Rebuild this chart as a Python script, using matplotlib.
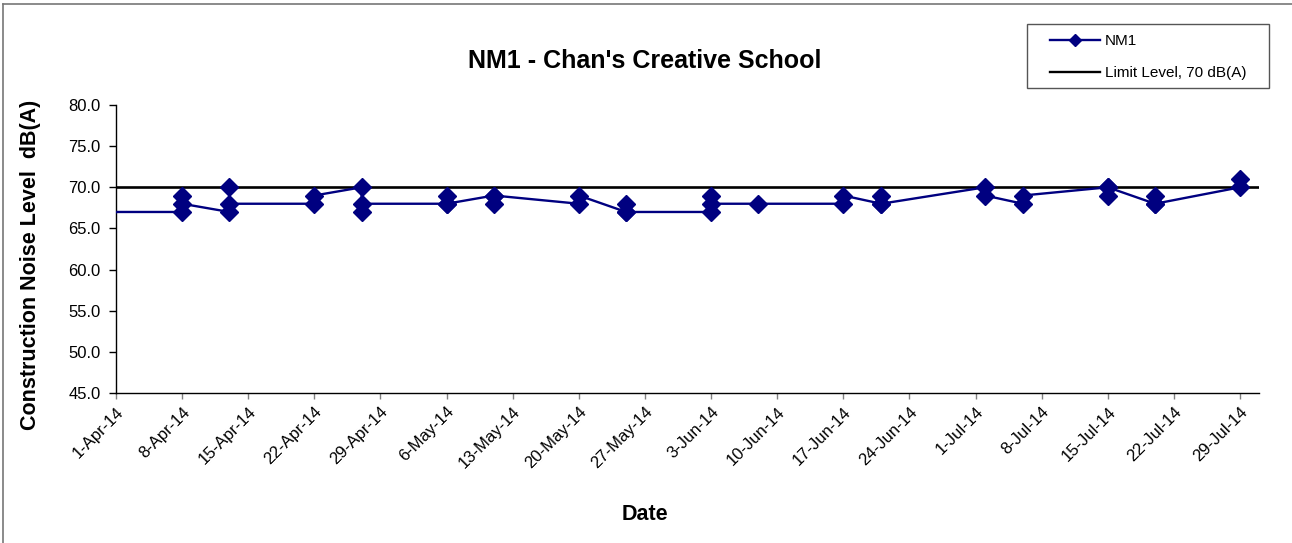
import matplotlib
matplotlib.use("Agg")
import matplotlib.pyplot as plt
from matplotlib.lines import Line2D
from matplotlib.patches import Rectangle
import pandas as pd

plt.rcParams['font.family'] = ['Liberation Sans', 'DejaVu Sans']

# measurement days and the readings taken on each day, in the order they were logged
sample_days = ['2014-03-31', '2014-04-08', '2014-04-13', '2014-04-22', '2014-04-27',
               '2014-05-06', '2014-05-11', '2014-05-20', '2014-05-25', '2014-06-03',
               '2014-06-08', '2014-06-17', '2014-06-21', '2014-07-02', '2014-07-06',
               '2014-07-15', '2014-07-20', '2014-07-29']
readings = [[67], [67, 69, 68], [67, 70, 68], [68, 69], [70, 67, 68],
            [68, 69, 68], [69, 68, 69], [68, 69], [67, 68, 67], [67, 69, 68],
            [68], [68, 69], [68, 69, 68], [70, 69], [68, 69],
            [70, 69, 70], [68, 69, 68], [70, 71]]
limit_level = 70

dates = []
values = []
for day, vals in zip(sample_days, readings):
    for v in vals:
        dates.append(pd.Timestamp(day))
        values.append(v)

x_start = pd.Timestamp('2014-04-01')
x_end = pd.Timestamp('2014-07-31')
tick_dates = pd.date_range('2014-04-01', '2014-07-29', freq='7D')

fig = plt.figure(figsize=(12.92, 5.43), dpi=100)
ax = fig.add_axes([116 / 1292, 150 / 543, (1259 - 116) / 1292, 288 / 543])

ax.plot(dates, values, color='#000080', lw=1.7, marker='D', ms=9.5,
        markerfacecolor='#000080', markeredgecolor='#000080', label='NM1', zorder=3)
ax.plot([x_start, x_end], [limit_level, limit_level], color='black', lw=1.9,
        label='Limit Level, 70 dB(A)', zorder=2)

ax.set_xlim(x_start, x_end)
ax.set_ylim(45, 80)
ax.set_yticks(range(45, 81, 5))
ax.yaxis.set_major_formatter(plt.FuncFormatter(lambda v, p: f'{v:.1f}'))
ax.set_xticks(tick_dates)
ax.set_xticklabels([f'{d.day}-{d.strftime("%b-%y")}' for d in tick_dates],
                   rotation=45, ha='right', rotation_mode='anchor')

for s in ['top', 'right']:
    ax.spines[s].set_visible(False)
for s in ['left', 'bottom']:
    ax.spines[s].set_linewidth(1.0)
ax.tick_params(axis='y', length=5, width=1, labelsize=12, pad=6)
ax.tick_params(axis='x', length=4, width=1, color='#808080', labelsize=12, pad=4)

fig.text(645 / 1292, 1 - 61 / 543, "NM1 - Chan's Creative School", ha='center', va='center',
         fontsize=18, fontweight='bold')
fig.text(31 / 1292, 1 - 265 / 543, 'Construction Noise Level  dB(A)', ha='center', va='center',
         rotation=90, fontsize=15.5, fontweight='bold')
fig.text(645 / 1292, 1 - 515 / 543, 'Date', ha='center', va='center',
         fontsize=15.5, fontweight='bold')

# legend: entries without frame, box drawn separately
handles = [Line2D([], [], color='#000080', lw=1.7, marker='D', ms=6),
           Line2D([], [], color='black', lw=1.7)]
leg = fig.legend(handles, ['NM1', 'Limit Level, 70 dB(A)'], loc='upper left',
                 bbox_to_anchor=(1050 / 1292, 1 - 34 / 543), fontsize=11, frameon=False,
                 handlelength=3.3, labelspacing=1.2, borderpad=0, handletextpad=0.3,
                 borderaxespad=0)
fig.add_artist(Rectangle((1027 / 1292, 1 - 88 / 543), 242 / 1292, 64 / 543,
                         transform=fig.transFigure, fill=False, edgecolor='#555555', lw=1.0))

# chart area border
fig.add_artist(Line2D([3 / 1292, 3 / 1292], [0, 1 - 4 / 543], color='#777777', lw=1.2))
fig.add_artist(Line2D([3 / 1292, 1], [1 - 4 / 543, 1 - 4 / 543], color='#777777', lw=1.2))

fig.savefig('out.png', dpi=100)
